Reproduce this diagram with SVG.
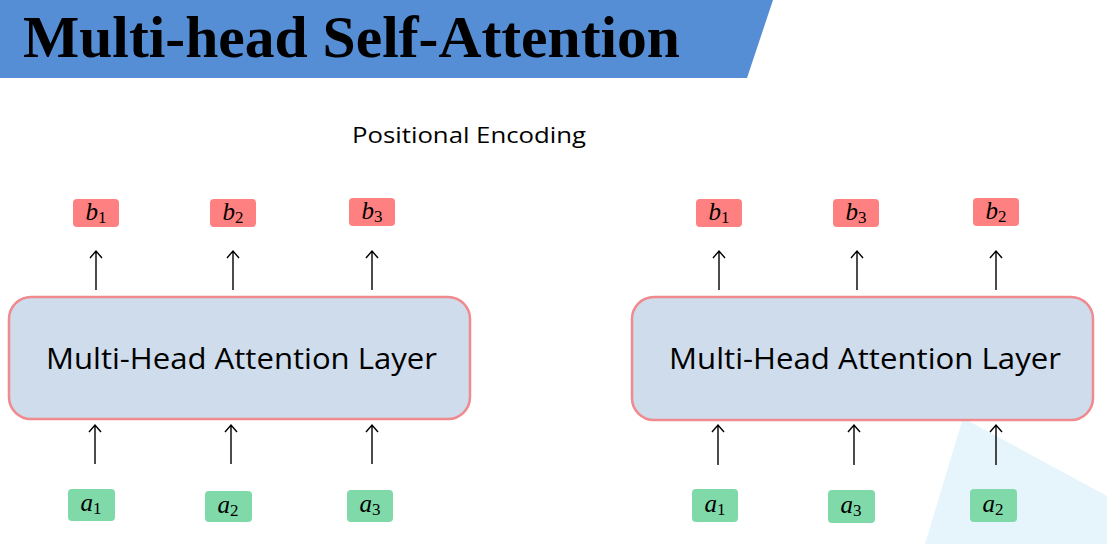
<svg xmlns="http://www.w3.org/2000/svg" width="1107" height="544" viewBox="0 0 1107 544">
<style>
.layer{fill:#cfdcec;stroke:#f08a8e;stroke-width:2.5}
.lt{font-family:"Open Sans","Noto Sans",sans-serif;font-size:30px;fill:#000}
.bb{fill:#ff8080}
.ab{fill:#80d9a8}
.m{font-family:"Liberation Serif",serif;font-style:italic;font-size:25px;fill:#000}
.s{font-style:normal;font-size:17px}
.arr{stroke:#000;stroke-width:1.4;fill:none}
</style>
<rect width="1107" height="544" fill="#fff"/>
<polygon points="0,0 773,0 747,78 0,78" fill="#558ed5"/>
<text x="23" y="57" font-family="'Liberation Serif','Times New Roman',serif" font-weight="bold" font-size="60" textLength="657" lengthAdjust="spacingAndGlyphs">Multi-head Self-Attention</text>
<polygon points="963,418 1107,496 1107,544 925,544" fill="#e6f5fb"/>
<text x="352" y="143" font-family="'Open Sans','Noto Sans',sans-serif" font-size="22" textLength="234" lengthAdjust="spacingAndGlyphs">Positional Encoding</text>

<g id="layer-left"><rect class="layer" x="9" y="297" width="461" height="122" rx="22"/><text class="lt" x="46" y="369" textLength="391" lengthAdjust="spacingAndGlyphs">Multi-Head Attention Layer</text></g>
<g id="layer-right"><rect class="layer" x="632" y="297" width="461" height="123" rx="22"/><text class="lt" x="669" y="369" textLength="392" lengthAdjust="spacingAndGlyphs">Multi-Head Attention Layer</text></g>

<g id="L-b1"><rect class="bb" x="73" y="199" width="46" height="28" rx="4"/><text class="m" x="96" y="220" text-anchor="middle">b<tspan class="s" dy="3">1</tspan></text></g>
<g id="L-b2"><rect class="bb" x="210" y="199" width="46" height="28" rx="4"/><text class="m" x="233" y="220" text-anchor="middle">b<tspan class="s" dy="3">2</tspan></text></g>
<g id="L-b3"><rect class="bb" x="349" y="198" width="46" height="28" rx="4"/><text class="m" x="372" y="219" text-anchor="middle">b<tspan class="s" dy="3">3</tspan></text></g>
<g id="L-a1"><rect class="ab" x="68" y="489" width="47" height="32" rx="4"/><text class="m" x="91" y="511" text-anchor="middle">a<tspan class="s" dy="3">1</tspan></text></g>
<g id="L-a2"><rect class="ab" x="205" y="491" width="47" height="31" rx="4"/><text class="m" x="228" y="513" text-anchor="middle">a<tspan class="s" dy="3">2</tspan></text></g>
<g id="L-a3"><rect class="ab" x="347" y="490" width="46" height="32" rx="4"/><text class="m" x="370" y="512" text-anchor="middle">a<tspan class="s" dy="3">3</tspan></text></g>

<g id="R-b1"><rect class="bb" x="696" y="199" width="46" height="28" rx="4"/><text class="m" x="719" y="220" text-anchor="middle">b<tspan class="s" dy="3">1</tspan></text></g>
<g id="R-b3"><rect class="bb" x="833" y="199" width="46" height="28" rx="4"/><text class="m" x="856" y="220" text-anchor="middle">b<tspan class="s" dy="3">3</tspan></text></g>
<g id="R-b2"><rect class="bb" x="973" y="198" width="46" height="28" rx="4"/><text class="m" x="996" y="219" text-anchor="middle">b<tspan class="s" dy="3">2</tspan></text></g>
<g id="R-a1"><rect class="ab" x="692" y="489" width="46" height="33" rx="4"/><text class="m" x="715" y="512" text-anchor="middle">a<tspan class="s" dy="3">1</tspan></text></g>
<g id="R-a3"><rect class="ab" x="828" y="490" width="47" height="33" rx="4"/><text class="m" x="851" y="513" text-anchor="middle">a<tspan class="s" dy="3">3</tspan></text></g>
<g id="R-a2"><rect class="ab" x="970" y="489" width="47" height="33" rx="4"/><text class="m" x="993" y="512" text-anchor="middle">a<tspan class="s" dy="3">2</tspan></text></g>

<g id="connectors" class="arr">
<path d="M96,290V251M90,258L96,251L102,258"/>
<path d="M233,290V251M227,258L233,251L239,258"/>
<path d="M372,290V251M366,258L372,251L378,258"/>
<path d="M95,464V425M89,432L95,425L101,432"/>
<path d="M231,464V425M225,432L231,425L237,432"/>
<path d="M372,464V425M366,432L372,425L378,432"/>
<path d="M719,290V251M713,258L719,251L725,258"/>
<path d="M857,290V251M851,258L857,251L863,258"/>
<path d="M996,290V251M990,258L996,251L1002,258"/>
<path d="M718,465V425M712,432L718,425L724,432"/>
<path d="M854,465V425M848,432L854,425L860,432"/>
<path d="M996,465V425M990,432L996,425L1002,432"/>
</g>
</svg>
